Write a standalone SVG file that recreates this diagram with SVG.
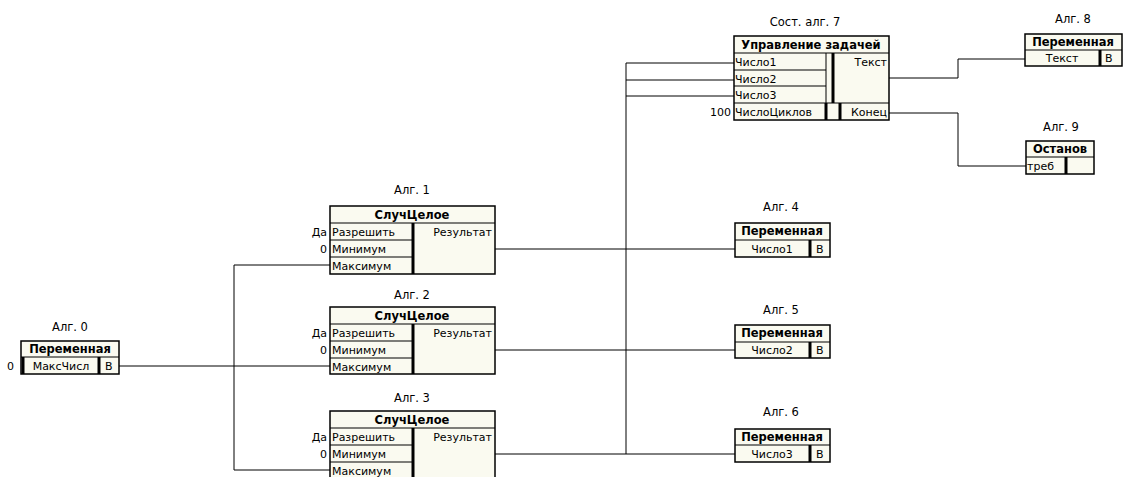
<svg xmlns="http://www.w3.org/2000/svg" width="1124" height="477" viewBox="0 0 1124 477">
<style>
text{font-family:"DejaVu Sans","Liberation Sans",sans-serif;font-size:11px;fill:#000}
.lbl{text-anchor:middle;font-size:11.5px}
.hd{font-weight:bold;text-anchor:middle;font-size:11.5px}
.c{text-anchor:middle}
.r{text-anchor:end}
.box{fill:#fafaf0;stroke:#000;stroke-width:1.5}
.cell{fill:none;stroke:#000;stroke-width:1}
.thick{stroke:#000;stroke-width:3;fill:none}
.wire{stroke:#000;stroke-width:1;fill:none}
</style>
<rect width="1124" height="477" fill="#fff"/>
<g id="connectors">
<path class="wire" d="M119,366H330 M234,265V470 M234,265H330 M234,470H330"/>
<path class="wire" d="M495,249H735 M495,350H735 M495,454H735"/>
<path class="wire" d="M626,63V454 M626,63H734 M626,80H734 M626,96H734"/>
<path class="wire" d="M889,78H958V59H1025 M889,113H958V166H1026"/>
</g>
<g id="alg0">
<text class="lbl" x="70" y="331">Алг. 0</text>
<rect class="box" x="21" y="341" width="98" height="33"/>
<path class="cell" d="M21,357H119"/>
<path class="thick" d="M23,357V374 M99,357V374"/>
<text class="hd" x="70" y="353">Переменная</text>
<text class="c" x="61" y="370">МаксЧисл</text>
<text x="105" y="370">В</text>
<text x="7" y="370">0</text>
</g>
<g id="alg1">
<text class="lbl" x="412" y="194">Алг. 1</text>
<rect class="box" x="330" y="206" width="165" height="68"/>
<path class="cell" d="M330,223H495 M330,240H412 M330,257H412"/>
<path class="thick" d="M413,223V274"/>
<text class="hd" x="412" y="219">СлучЦелое</text>
<text x="332" y="236">Разрешить</text>
<text x="332" y="253">Минимум</text>
<text x="332" y="270">Максимум</text>
<text class="r" x="492" y="236">Результат</text>
<text class="r" x="327" y="236">Да</text>
<text class="r" x="327" y="253">0</text>
</g>
<g id="alg2">
<text class="lbl" x="412" y="299">Алг. 2</text>
<rect class="box" x="330" y="307" width="165" height="67"/>
<path class="cell" d="M330,324H495 M330,341H412 M330,358H412"/>
<path class="thick" d="M413,324V374"/>
<text class="hd" x="412" y="320">СлучЦелое</text>
<text x="332" y="337">Разрешить</text>
<text x="332" y="354">Минимум</text>
<text x="332" y="371">Максимум</text>
<text class="r" x="492" y="337">Результат</text>
<text class="r" x="327" y="337">Да</text>
<text class="r" x="327" y="354">0</text>
</g>
<g id="alg3">
<text class="lbl" x="412" y="402">Алг. 3</text>
<rect class="box" x="330" y="411" width="165" height="70"/>
<path class="cell" d="M330,428H495 M330,445H412 M330,462H412"/>
<path class="thick" d="M413,428V480"/>
<text class="hd" x="412" y="424">СлучЦелое</text>
<text x="332" y="441">Разрешить</text>
<text x="332" y="458">Минимум</text>
<text x="332" y="475">Максимум</text>
<text class="r" x="492" y="441">Результат</text>
<text class="r" x="327" y="441">Да</text>
<text class="r" x="327" y="458">0</text>
</g>
<g id="alg4">
<text class="lbl" x="781" y="211">Алг. 4</text>
<rect class="box" x="735" y="223" width="95" height="34"/>
<path class="cell" d="M735,240H830"/>
<path class="thick" d="M810,240V257"/>
<text class="hd" x="782" y="235">Переменная</text>
<text class="c" x="772" y="253">Число1</text>
<text x="816" y="253">В</text>
</g>
<g id="alg5">
<text class="lbl" x="781" y="314">Алг. 5</text>
<rect class="box" x="735" y="325" width="95" height="33"/>
<path class="cell" d="M735,342H830"/>
<path class="thick" d="M810,342V358"/>
<text class="hd" x="782" y="337">Переменная</text>
<text class="c" x="772" y="354">Число2</text>
<text x="816" y="354">В</text>
</g>
<g id="alg6">
<text class="lbl" x="781" y="416">Алг. 6</text>
<rect class="box" x="735" y="429" width="95" height="33"/>
<path class="cell" d="M735,445H830"/>
<path class="thick" d="M810,445V462"/>
<text class="hd" x="782" y="441">Переменная</text>
<text class="c" x="772" y="458">Число3</text>
<text x="816" y="458">В</text>
</g>
<g id="alg7">
<text class="lbl" x="805" y="26">Сост. алг. 7</text>
<rect class="box" x="734" y="36" width="155" height="84"/>
<path class="cell" d="M734,53H889 M734,70H826 M734,86H826 M734,103H889"/>
<path class="cell" d="M826,53V103"/>
<path class="thick" d="M833,53V103 M826,103V120 M840,103V120"/>
<text class="hd" x="811" y="49">Управление задачей</text>
<text x="735" y="66">Число1</text>
<text x="735" y="83">Число2</text>
<text x="735" y="99">Число3</text>
<text x="735" y="116">ЧислоЦиклов</text>
<text class="r" x="887" y="66">Текст</text>
<text class="r" x="887" y="116">Конец</text>
<text class="r" x="731" y="116">100</text>
</g>
<g id="alg8">
<text class="lbl" x="1073" y="23">Алг. 8</text>
<rect class="box" x="1025" y="34" width="97" height="32"/>
<path class="cell" d="M1025,50H1122"/>
<path class="thick" d="M1100,50V66"/>
<text class="hd" x="1073" y="46">Переменная</text>
<text class="c" x="1062" y="62">Текст</text>
<text x="1105" y="62">В</text>
</g>
<g id="alg9">
<text class="lbl" x="1061" y="131">Алг. 9</text>
<rect class="box" x="1026" y="141" width="68" height="33"/>
<path class="cell" d="M1026,157H1094"/>
<path class="thick" d="M1066,157V174"/>
<text class="hd" x="1060" y="153">Останов</text>
<text x="1027" y="170">треб</text>
</g>
</svg>
